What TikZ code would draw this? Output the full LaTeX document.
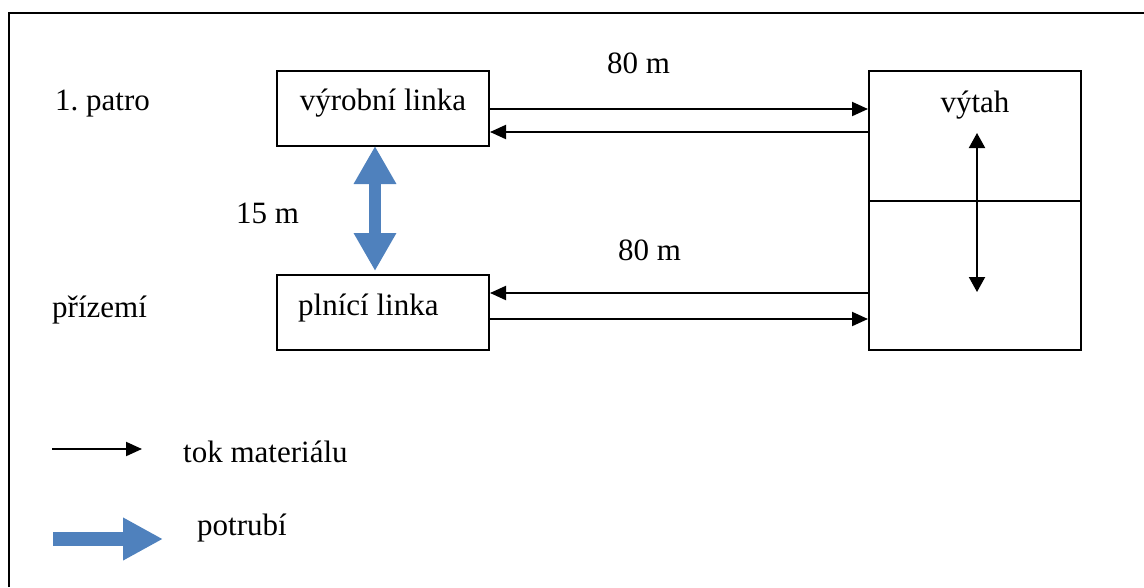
\documentclass[tikz,border=0pt]{standalone}
\usepackage{fontspec}
\setmainfont{Liberation Serif}
\usepackage{tikz}
\usetikzlibrary{arrows.meta}
\usepackage{xcolor}
\definecolor{pipeblue}{HTML}{4F81BD}

\begin{document}
\begin{tikzpicture}[x=1pt, y=-1pt,
    txt/.style={inner sep=0pt, font=\fontsize{31}{37}\selectfont},
    box/.style={draw, line width=2pt, inner sep=0pt, minimum width=212, minimum height=75},
    flow/.style={line width=2pt, -{Triangle[length=16pt, width=14pt]}},
    pipe/.style={pipeblue, line width=12pt, {Triangle[length=38pt, width=40pt]}-{Triangle[length=38pt, width=40pt]}}]
        \useasboundingbox (0,0) rectangle (1144,587);

        % Frame
        \draw[line width=2pt] (8.5,587) -- (8.5,12.5) -- (1144,12.5);

        % Floors
        \node[txt, anchor=base west] (patro)   at (55,110)  {1.\ patro};
        \node[txt, anchor=base west] (prizemi) at (52,317)  {přízemí};

        % Lines
        \node[box] (vyroba) at (383,108.5) {};
        \node[txt, anchor=base] (vyrobaT) at (383,110) {výrobní linka};
        \node[box] (plneni) at (383,312.5) {};
        \node[txt, anchor=base west] (plneniT) at (298,315) {plnící linka};

        % Lift
        \node[box, minimum height=279] (vytah) at (975,210.5) {};
        \node[txt, anchor=base] (vytahT) at (975,112) {výtah};
        \draw[line width=2pt] ([yshift=9.5pt]vytah.west) -- ([yshift=9.5pt]vytah.east);
        \coordinate (liftUp) at (977,133);
        \coordinate (liftDown) at (977,292);
        \draw[line width=2pt, {Triangle[length=15pt, width=16pt]}-{Triangle[length=15pt, width=16pt]}] (liftUp) -- (liftDown);

        % Material flow
        \draw[flow] (vyroba.east |- 0,109) -- (vytah.west |- 0,109);
        \draw[flow] (vytah.west |- 0,132) -- (vyroba.east |- 0,132);
        \draw[flow] (vytah.west |- 0,293) -- (plneni.east |- 0,293);
        \draw[flow] (plneni.east |- 0,319) -- (vytah.west |- 0,319);
        \node[txt, anchor=base west] (dist1) at (607,73)  {80 m};
        \node[txt, anchor=base west] (dist2) at (618,260) {80 m};

        % Pipe between floors
        \draw[pipe] ([xshift=-8pt, yshift=1pt]vyroba.south) -- ([xshift=-8pt, yshift=3pt]plneni.north);
        \node[txt, anchor=base west] (dist3) at (236,223) {15 m};

        % Legend
        \coordinate (legA) at (52,449);
        \coordinate (legB) at (142,449);
        \draw[flow] (legA) -- (legB);
        \node[txt, anchor=base west] (legFlow) at (183,462) {tok materiálu};
        \coordinate (legC) at (53,539);
        \coordinate (legD) at (163,539);
        \draw[pipeblue, line width=14pt, -{Triangle[length=40pt, width=40pt]}] (legC) -- (legD);
        \node[txt, anchor=base west] (legPipe) at (197,535) {potrubí};
    \end{tikzpicture}
\end{document}
